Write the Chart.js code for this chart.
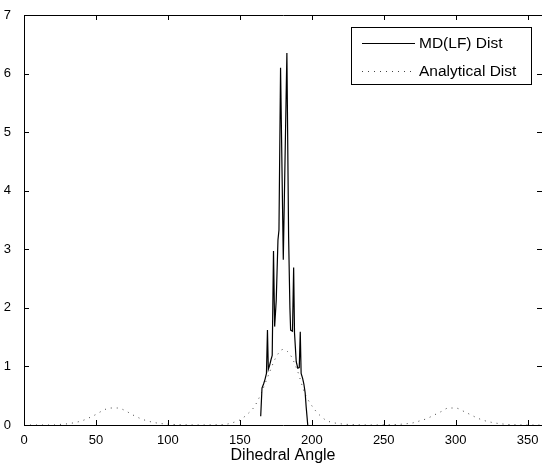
<!DOCTYPE html>
<html lang="en">
<head>
<meta charset="UTF-8">
<title>Dihedral Angle Distribution</title>
<script src="https://cdn.jsdelivr.net/npm/chart.js"></script>
<style>
  html, body { margin: 0; padding: 0; background: #fff; }
</style>
</head>
<body>
<canvas id="dist" width="542" height="466"></canvas>
<script>
// MD (leap-frog) histogram around the trans peak
const mdAngles = [164.5, 165.4, 166.5, 167.5, 168.5, 169.2, 169.8, 170.7, 171.6, 172.5,
                  173.4, 174.2, 175.3, 176.5, 177.2, 178.3, 180.2, 182.7, 183.9, 184.8,
                  185.3, 186.6, 187.4, 188.0, 189.2, 190.3, 191.3, 192.0, 192.6, 193.6,
                  194.5, 195.4, 196.1, 197.2];
const mdValues = [0.15, 0.63, 0.70, 0.78, 0.88, 1.62, 0.95, 1.02, 1.11, 1.19,
                  2.97, 1.68, 2.13, 3.16, 3.33, 6.10, 2.82, 6.35, 3.21, 2.00,
                  1.62, 1.60, 2.69, 1.57, 1.08, 0.97, 0.98, 1.59, 0.88, 0.80,
                  0.70, 0.55, 0.31, 0.00];

// analytical distribution, sampled every 5 degrees
const analyticAngles = [0, 5, 10, 15, 20, 25, 30, 35, 40, 45, 50, 55, 60, 65, 70, 75, 80, 85,
                        90, 95, 100, 105, 110, 115, 120, 125, 130, 135, 140, 145, 150, 155,
                        160, 165, 170, 175, 180, 185, 190, 195, 200, 205, 210, 215, 220, 225,
                        230, 235, 240, 245, 250, 255, 260, 265, 270, 275, 280, 285, 290, 295,
                        300, 305, 310, 315, 320, 325, 330, 335, 340, 345, 350, 355, 360];
const analyticValues = [0, 0, 0, 0, 0, 0.01, 0.02, 0.04, 0.07, 0.12, 0.18, 0.25, 0.29, 0.29, 0.25, 0.18, 0.12, 0.075,
                        0.045, 0.025, 0.015, 0.008, 0.004, 0.002, 0.001, 0.001, 0.002, 0.004, 0.01, 0.04, 0.085, 0.18,
                        0.31, 0.55, 0.86, 1.15, 1.29, 1.20, 0.93, 0.55, 0.33, 0.18, 0.08, 0.04, 0.02, 0.01,
                        0.005, 0.002, 0.001, 0.001, 0.002, 0.005, 0.01, 0.02, 0.035, 0.07, 0.11, 0.17, 0.23, 0.29,
                        0.29, 0.24, 0.18, 0.12, 0.075, 0.045, 0.025, 0.012, 0.005, 0.002, 0, 0, 0];

const xTicks = [0, 50, 100, 150, 200, 250, 300, 350];
const yTicks = [0, 1, 2, 3, 4, 5, 6, 7];

const seriesNames = ['MD(LF) Dist', 'Analytical Dist'];

const toPoints = (xs, ys) => xs.map((v, i) => ({ x: v, y: ys[i] }));

Chart.defaults.font.family = '"Liberation Sans", Arial, Helvetica, sans-serif';
Chart.defaults.color = '#000';

// box around the axes with inward tick marks on all four sides
const framePlugin = {
  id: 'frame',
  afterDatasetsDraw(chart) {
    const { ctx, chartArea: a, scales: { x, y } } = chart;
    const tick = 5;
    ctx.save();
    ctx.strokeStyle = '#000';
    ctx.lineWidth = 1;
    ctx.beginPath();
    ctx.rect(a.left + 0.5, a.top + 0.5, a.right - a.left, a.bottom - a.top);
    x.ticks.forEach(t => {
      const px = Math.round(x.getPixelForValue(t.value)) + 0.5;
      ctx.moveTo(px, a.bottom); ctx.lineTo(px, a.bottom - tick);
      ctx.moveTo(px, a.top); ctx.lineTo(px, a.top + tick);
    });
    y.ticks.forEach(t => {
      const py = Math.round(y.getPixelForValue(t.value)) + 0.5;
      ctx.moveTo(a.left, py); ctx.lineTo(a.left + tick, py);
      ctx.moveTo(a.right, py); ctx.lineTo(a.right - tick, py);
    });
    ctx.stroke();
    ctx.restore();
  }
};

// MATLAB-like legend box in the upper right corner
const boxLegend = {
  id: 'boxLegend',
  afterDraw(chart) {
    const { ctx } = chart;
    const left = 351.5, top = 27.5, w = 180, h = 57;
    ctx.save();
    ctx.fillStyle = '#fff';
    ctx.fillRect(left, top, w, h);
    ctx.strokeStyle = '#000';
    ctx.lineWidth = 1;
    ctx.strokeRect(left, top, w, h);
    ctx.font = '15.5px "Liberation Sans", Arial, sans-serif';
    ctx.textBaseline = 'middle';
    chart.data.datasets.forEach((ds, i) => {
      const rowY = 43.5 + i * 28;
      ctx.beginPath();
      ctx.strokeStyle = ds.borderColor;
      ctx.lineWidth = ds.borderWidth;
      ctx.setLineDash(ds.borderDash || []);
      ctx.moveTo(362, rowY);
      ctx.lineTo(415, rowY);
      ctx.stroke();
      ctx.setLineDash([]);
      ctx.fillStyle = '#000';
      ctx.fillText(ds.label, 419, rowY);
    });
    ctx.restore();
  }
};

new Chart(document.getElementById('dist'), {
  type: 'line',
  data: {
    datasets: [
      {
        label: seriesNames[0],
        data: toPoints(mdAngles, mdValues),
        borderColor: '#000',
        borderWidth: 1.2,
        pointRadius: 0,
        tension: 0,
        fill: false
      },
      {
        label: seriesNames[1],
        data: toPoints(analyticAngles, analyticValues),
        borderColor: '#444',
        borderWidth: 1,
        borderDash: [1, 5],
        pointRadius: 0,
        cubicInterpolationMode: 'monotone',
        fill: false
      }
    ]
  },
  options: {
    responsive: false,
    animation: false,
    devicePixelRatio: 1,
    layout: { padding: { top: 15, right: 0, bottom: 0, left: 0 } },
    plugins: {
      legend: { display: false },
      tooltip: { enabled: false }
    },
    scales: {
      x: {
        type: 'linear',
        min: 0,
        max: 360,
        afterBuildTicks: s => { s.ticks = xTicks.map(v => ({ value: v })); },
        afterFit: s => { s.height = 41; },
        grid: { display: false },
        border: { display: false },
        ticks: { font: { size: 13 }, padding: 0, maxRotation: 0 },
        title: { display: true, text: 'Dihedral Angle', font: { size: 16 }, padding: { top: 0, bottom: 1 } }
      },
      y: {
        min: 0,
        max: 7,
        afterBuildTicks: s => { s.ticks = yTicks.map(v => ({ value: v })); },
        afterFit: s => { s.width = 24; },
        grid: { display: false },
        border: { display: false },
        ticks: { font: { size: 13 }, padding: 5 }
      }
    }
  },
  plugins: [framePlugin, boxLegend]
});
</script>
</body>
</html>
